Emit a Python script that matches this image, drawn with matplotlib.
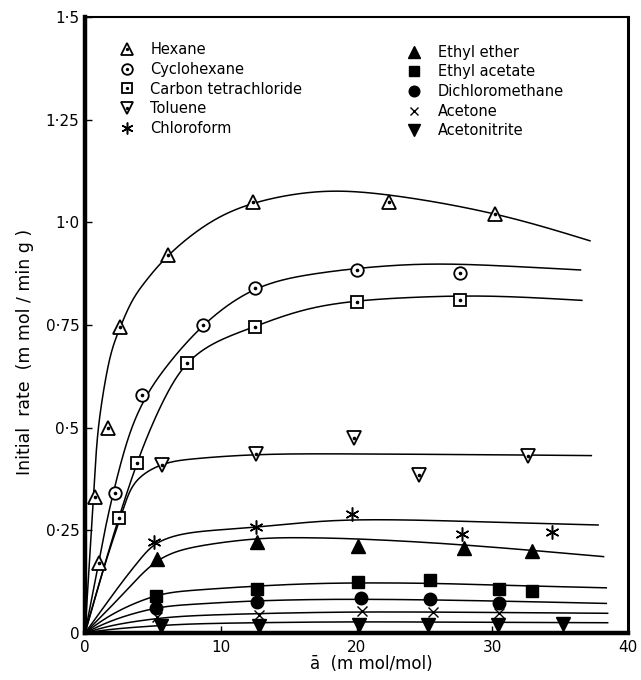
import numpy as np
import matplotlib
matplotlib.use("Agg")
import matplotlib.pyplot as plt
from matplotlib.legend_handler import HandlerTuple

plt.rcParams['font.family'] = ['DejaVu Sans']

# ---------------- data ----------------
series_names = ["Hexane", "Cyclohexane", "Carbon tetrachloride", "Toluene", "Chloroform",
                "Ethyl ether", "Ethyl acetate", "Dichloromethane", "Acetone", "Acetonitrite"]

hexane_x = [1.0, 0.7, 1.7, 2.6, 6.1, 12.4, 22.4, 30.2]
hexane_y = [0.17, 0.33, 0.50, 0.745, 0.92, 1.05, 1.05, 1.02]
cyclohexane_x = [2.2, 4.2, 8.7, 12.5, 20.0, 27.6]
cyclohexane_y = [0.34, 0.58, 0.75, 0.84, 0.884, 0.876]
ccl4_x = [2.5, 3.8, 7.5, 12.5, 20.0, 27.6]
ccl4_y = [0.28, 0.415, 0.657, 0.745, 0.805, 0.812]
toluene_x = [5.7, 12.6, 19.8, 24.6, 32.6]
toluene_y = [0.41, 0.435, 0.475, 0.385, 0.43]
chloroform_x = [5.1, 12.6, 19.7, 27.8, 34.4]
chloroform_y = [0.222, 0.257, 0.29, 0.24, 0.245]
ether_x = [5.3, 12.7, 20.1, 27.9, 32.9]
ether_y = [0.179, 0.221, 0.211, 0.207, 0.199]
acetate_x = [5.2, 12.7, 20.1, 25.4, 30.5, 32.9]
acetate_y = [0.091, 0.106, 0.123, 0.13, 0.108, 0.102]
dcm_x = [5.2, 12.7, 20.3, 25.4, 30.5]
dcm_y = [0.06, 0.075, 0.085, 0.083, 0.072]
acetone_x = [5.3, 12.8, 20.4, 25.6, 30.5]
acetone_y = [0.04, 0.043, 0.053, 0.051, 0.048]
acetonitrite_x = [5.6, 12.8, 20.2, 25.3, 30.4, 35.2]
acetonitrite_y = [0.016, 0.016, 0.02, 0.02, 0.02, 0.022]

# fitted curves as drawn (knots)
hexane_cx = [0, 0.3, 0.6, 0.85, 1.1, 1.5, 2.0, 2.6, 3.5, 4.5, 6.1, 9.0, 12.3, 17.0, 22.0, 30.2, 37.2]
hexane_cy = [0, 0.16, 0.32, 0.45, 0.53, 0.615, 0.69, 0.745, 0.81, 0.858, 0.918, 0.995, 1.045, 1.074, 1.068, 1.02, 0.955]
cyclohexane_cx = [0, 0.7, 1.5, 2.3, 3.4, 4.5, 5.8, 8.7, 12.5, 17.0, 24.0, 30.0, 36.5]
cyclohexane_cy = [0, 0.12, 0.255, 0.37, 0.495, 0.575, 0.64, 0.748, 0.836, 0.875, 0.897, 0.895, 0.884]
ccl4_cx = [0, 1.0, 2.3, 3.8, 4.8, 6.0, 7.5, 9.5, 12.4, 17.0, 24.0, 30.0, 36.6]
ccl4_cy = [0, 0.115, 0.26, 0.41, 0.495, 0.58, 0.655, 0.705, 0.745, 0.793, 0.817, 0.82, 0.81]
toluene_cx = [0, 1.5, 2.8, 3.8, 5.7, 8.0, 12.6, 20.0, 30.0, 37.3]
toluene_cy = [0, 0.17, 0.30, 0.37, 0.41, 0.424, 0.434, 0.436, 0.434, 0.432]
chloroform_cx = [0, 1.1, 2.6, 4.0, 5.1, 6.5, 8.5, 12.6, 18.0, 24.0, 30.0, 37.8]
chloroform_cy = [0, 0.05, 0.118, 0.177, 0.214, 0.235, 0.247, 0.258, 0.273, 0.275, 0.27, 0.263]
ether_cx = [0, 1.4, 2.8, 4.0, 5.2, 6.5, 8.5, 12.6, 16.0, 20.0, 27.6, 38.2]
ether_cy = [0, 0.047, 0.095, 0.137, 0.172, 0.195, 0.212, 0.229, 0.232, 0.229, 0.215, 0.186]
acetate_cx = [0, 2.0, 5.2, 8.0, 12.6, 18.0, 25.0, 30.0, 38.4]
acetate_cy = [0, 0.045, 0.09, 0.104, 0.114, 0.121, 0.121, 0.117, 0.11]
dcm_cx = [0, 2.0, 5.2, 8.0, 12.6, 20.0, 30.0, 38.4]
dcm_cy = [0, 0.03, 0.06, 0.07, 0.078, 0.082, 0.078, 0.072]
acetone_cx = [0, 2.0, 5.3, 8.0, 12.6, 20.0, 30.0, 38.5]
acetone_cy = [0, 0.018, 0.035, 0.042, 0.047, 0.051, 0.05, 0.048]
acetonitrite_cx = [0, 2.0, 5.5, 8.0, 12.6, 20.0, 30.0, 38.5]
acetonitrite_cy = [0, 0.009, 0.018, 0.022, 0.025, 0.027, 0.026, 0.025]

x_ticks = [0, 10, 20, 30, 40]
x_tick_labels = ["0", "10", "20", "30", "40"]
y_ticks = [0, 0.25, 0.5, 0.75, 1.0, 1.25, 1.5]
y_tick_labels = ["0", "0·25", "0·5", "0·75", "1·0", "1·25", "1·5"]


def natural_spline(t, y, ts):
    n = len(t)
    h = np.diff(t)
    A = np.zeros((n, n)); b = np.zeros(n)
    A[0, 0] = 1; A[-1, -1] = 1
    for i in range(1, n - 1):
        A[i, i - 1] = h[i - 1]; A[i, i] = 2 * (h[i - 1] + h[i]); A[i, i + 1] = h[i]
        b[i] = 6 * ((y[i + 1] - y[i]) / h[i] - (y[i] - y[i - 1]) / h[i - 1])
    M = np.linalg.solve(A, b)
    idx = np.clip(np.searchsorted(t, ts) - 1, 0, n - 2)
    hi = h[idx]; t0 = t[idx]; t1 = t[idx + 1]
    return (M[idx] * (t1 - ts)**3 / (6 * hi) + M[idx + 1] * (ts - t0)**3 / (6 * hi)
            + (y[idx] / hi - M[idx] * hi / 6) * (t1 - ts)
            + (y[idx + 1] / hi - M[idx + 1] * hi / 6) * (ts - t0))


def smooth_curve(cx, cy, n=800):
    x = np.asarray(cx, float); y = np.asarray(cy, float)
    px = x / 40 * 543; py = y / 1.5 * 616          # parameterise in display-like units
    d = np.hypot(np.diff(px), np.diff(py)) ** 0.5   # centripetal
    t = np.concatenate([[0], np.cumsum(d)])
    ts = np.linspace(0, t[-1], n)
    return natural_spline(t, x, ts), natural_spline(t, y, ts)


fig = plt.figure(figsize=(6.41, 6.80), dpi=100)
ax = fig.add_axes([85 / 641, 47 / 680, 543 / 641, 616 / 680])

curves = [(hexane_cx, hexane_cy), (cyclohexane_cx, cyclohexane_cy), (ccl4_cx, ccl4_cy),
          (toluene_cx, toluene_cy), (chloroform_cx, chloroform_cy), (ether_cx, ether_cy),
          (acetate_cx, acetate_cy), (dcm_cx, dcm_cy), (acetone_cx, acetone_cy),
          (acetonitrite_cx, acetonitrite_cy)]
for cx, cy in curves:
    sx, sy = smooth_curve(cx, cy)
    ax.plot(sx, sy, color='black', lw=1.1, zorder=2)

points = [(hexane_x, hexane_y), (cyclohexane_x, cyclohexane_y), (ccl4_x, ccl4_y),
          (toluene_x, toluene_y), (chloroform_x, chloroform_y), (ether_x, ether_y),
          (acetate_x, acetate_y), (dcm_x, dcm_y), (acetone_x, acetone_y),
          (acetonitrite_x, acetonitrite_y)]
styles = [
    dict(marker='^', ms=10, mfc='white', mec='black', mew=1.3),
    dict(marker='o', ms=9, mfc='white', mec='black', mew=1.3),
    dict(marker='s', ms=8.5, mfc='white', mec='black', mew=1.3),
    dict(marker='v', ms=10, mfc='white', mec='black', mew=1.3),
    dict(marker=(6, 2, 0), ms=10, mec='black', mew=1.1),
    dict(marker='^', ms=10, mfc='black', mec='black', mew=1),
    dict(marker='s', ms=8.5, mfc='black', mec='black', mew=1),
    dict(marker='o', ms=9, mfc='black', mec='black', mew=1),
    dict(marker='x', ms=6.5, mec='black', mew=1.0),
    dict(marker='v', ms=10, mfc='black', mec='black', mew=1),
]
has_dot = [True, True, True, True, False, False, False, False, False, False]

handles = []
for (px, py), st, dot, name in zip(points, styles, has_dot, series_names):
    h, = ax.plot(px, py, ls='none', zorder=3, **st)
    if dot:
        d, = ax.plot(px, py, ls='none', marker='o', ms=1.6, color='black', zorder=4)
        handles.append((h, d))
    else:
        handles.append(h)

leg_kw = dict(frameon=False, fontsize=10.5, handlelength=1.0, handletextpad=1.1,
              labelspacing=0.32, borderpad=0, borderaxespad=0, loc='upper left',
              markerscale=0.85,
              handler_map={tuple: HandlerTuple(ndivide=1, pad=0)})
leg1 = ax.legend(handles[:5], series_names[:5], bbox_to_anchor=(0.064, 0.959), **leg_kw)
ax.add_artist(leg1)
ax.legend(handles[5:], series_names[5:], bbox_to_anchor=(0.593, 0.955), **leg_kw)

ax.set_xlim(0, 40)
ax.set_ylim(0, 1.5)
ax.set_xticks(x_ticks)
ax.set_xticklabels(x_tick_labels)
ax.set_yticks(y_ticks)
ax.set_yticklabels(y_tick_labels)
ax.tick_params(direction='in', length=5, width=1, labelsize=11, color='black')
ax.tick_params(axis='x', pad=5)
ax.tick_params(axis='y', pad=4)

for side, lw in [('left', 3.2), ('bottom', 3.2), ('right', 2.2), ('top', 1.5)]:
    ax.spines[side].set_linewidth(lw)
    ax.spines[side].set_color('black')

ax.set_xlabel("ā  (m mol/mol)", fontsize=12)
ax.xaxis.set_label_coords(0.527, -0.035)
ax.xaxis.label.set_va('top')
ax.set_ylabel("Initial  rate  (m mol / min g )", fontsize=12.5)
ax.yaxis.set_label_coords(-0.094, 0.456)

fig.savefig("out.png", dpi=100, facecolor='white')
